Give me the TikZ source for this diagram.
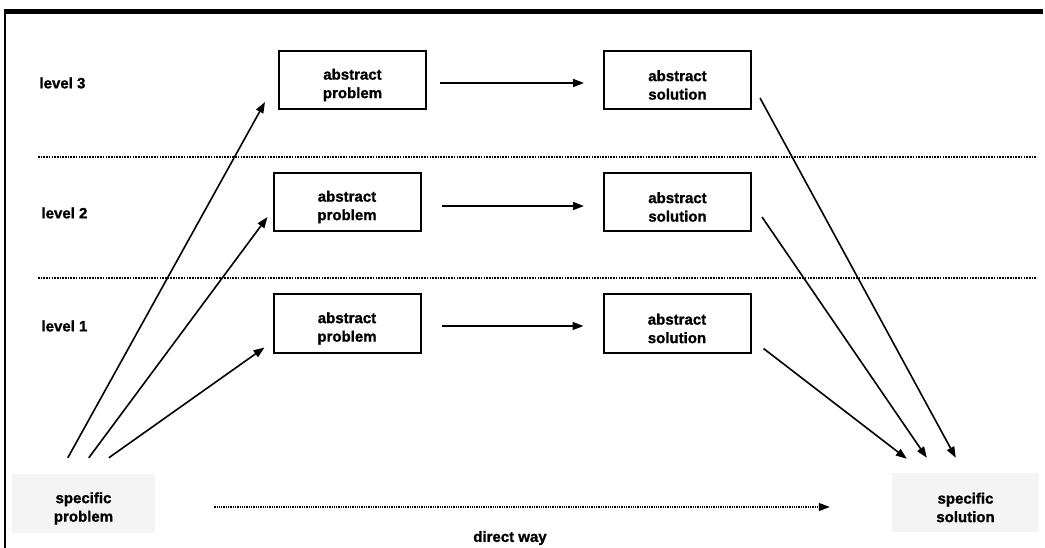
\documentclass[tikz,border=0pt]{standalone}
\usepackage{fontspec}
\setmainfont{Liberation Sans}[BoldFeatures={FakeBold=1.2}]
\usetikzlibrary{arrows.meta,calc}
\begin{document}
\begin{tikzpicture}[x=1pt,y=-1pt,
  txt/.style={font=\fontsize{15}{18.5}\selectfont\bfseries, align=center},
  absbox/.style={draw=black, line width=2pt, fill=white, minimum width=147pt, minimum height=58pt, inner sep=0pt},
  specbox/.style={fill={rgb,255:red,244;green,244;blue,244}, minimum width=143pt, minimum height=59pt, inner sep=0pt},
  intext/.style={label={[txt,yshift=-5pt]center:#1}},
  lvl/.style={txt, anchor=west},
  arr/.style={line width=1.6pt, -{Triangle[length=11pt,width=8pt]}},
  sep/.style={line width=1.8pt, dash pattern=on 1.6pt off 1.1pt},
  dway/.style={line width=1.2pt, dash pattern=on 1.3pt off 1pt, -{Triangle[length=11pt,width=8pt]}}]
\useasboundingbox (0,0) rectangle (1045,548);
\fill[white] (0,0) rectangle (1045,548);
% frame
\draw[line width=5pt] (5,11.5) -- (1043,11.5);
\draw[line width=2pt] (5,9) -- (5,548);
% separators
\draw[sep] (38,157) -- (1037,157);
\draw[sep] (38,278) -- (1037,278);
% level labels
\node[lvl] (l3) at (36,83) {level 3};
\node[lvl] (l2) at (38,213) {level 2};
\node[lvl] (l1) at (38,326) {level 1};
% boxes
\node[absbox, intext={abstract\\problem}] (ap3) at (352.5,80) {};
\node[absbox, intext={abstract\\solution}] (as3) at (677.5,80) {};
\node[absbox, intext={abstract\\problem}] (ap2) at (347,202) {};
\node[absbox, intext={abstract\\solution}] (as2) at (677.5,202) {};
\node[absbox, intext={abstract\\problem}] (ap1) at (347,323.5) {};
\node[absbox, intext={abstract\\solution}] (as1) at (677,323.5) {};
\node[specbox, intext={specific\\problem}] (sp) at (83.5,503.5) {};
\node[specbox, minimum width=147pt, intext={specific\\solution}] (ss) at (965.5,502.5) {};
\node[txt] (dw) at (510,538) {direct way};
% horizontal arrows
\draw[arr] ($(ap3.east)+(13,3)$) -- ($(as3.west)+(-19,3)$);
\draw[arr] ($(ap2.east)+(20,4)$) -- ($(as2.west)+(-19,4)$);
\draw[arr] ($(ap1.east)+(20,2.5)$) -- ($(as1.west)+(-19,2.5)$);
% from specific problem
\draw[arr] ($(sp.north west)+(56,-16)$) -- ($(ap3.south west)+(-13,-8)$);
\draw[arr] ($(sp.north west)+(77,-16)$) -- ($(ap2.south west)+(-5,-15)$);
\draw[arr] ($(sp.north west)+(97,-16)$) -- ($(ap1.south west)+(-8,-6)$);
% to specific solution
\draw[arr] ($(as3.south east)+(8,-12)$) -- ($(ss.north west)+(64,-15)$);
\draw[arr] ($(as2.south east)+(10,-15)$) -- ($(ss.north west)+(35,-15)$);
\draw[arr] ($(as1.south east)+(12,-5)$) -- ($(ss.north west)+(15,-14)$);
% direct way
\draw[dway] ($(sp.east)+(59,3.5)$) -- ($(ss.west)+(-62,4.5)$);
\end{tikzpicture}
\end{document}
